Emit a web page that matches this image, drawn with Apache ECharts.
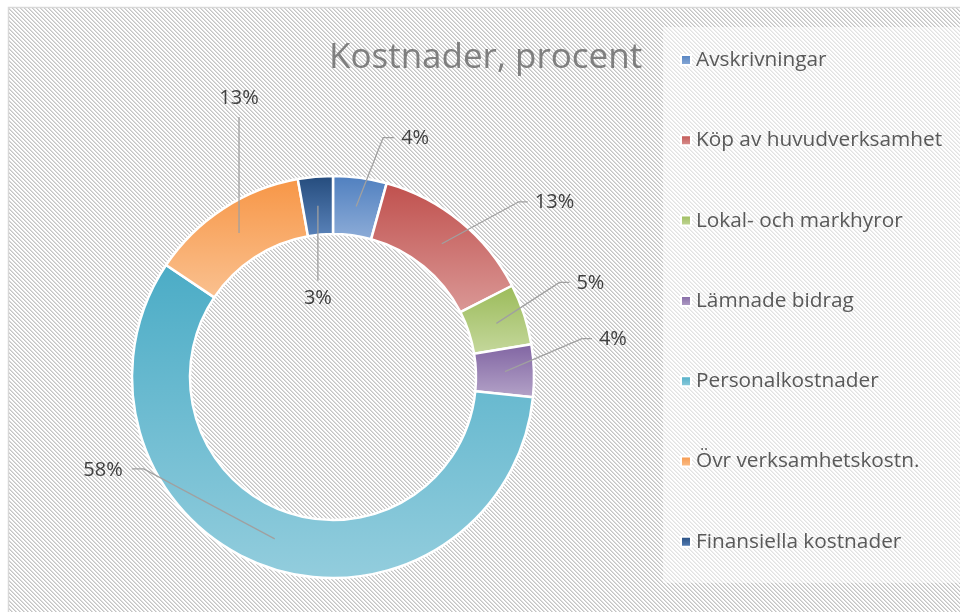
<!DOCTYPE html>
<html>
<head>
<meta charset="utf-8">
<title>Kostnader, procent</title>
<script src="https://cdn.jsdelivr.net/npm/echarts@6/dist/echarts.min.js"></script>
<style>
html, body { margin: 0; padding: 0; background: #fff; }
#main { width: 960px; height: 612px; }
</style>
</head>
<body>
<div id="main"></div>
<script>
// kostnader per kategori (procent)
var categories = ['Avskrivningar', 'Köp av huvudverksamhet', 'Lokal- och markhyror', 'Lämnade bidrag', 'Personalkostnader', 'Övr verksamhetskostn.', 'Finansiella kostnader'];
var values = [4.3, 13.2, 4.9, 4.2, 57.8, 12.8, 2.8];

// färger, topp -> botten i varje segment
var topColors = ['#4f7fbf', '#c0504d', '#9bbb59', '#8064a2', '#4bacc6', '#f79646', '#244b7c'];
var bottomColors = ['#8eadd8', '#da9896', '#c5d89d', '#b4a3c8', '#93cddd', '#fac190', '#5a83ba'];

var CX = 333, CY = 377, R_IN = 143, R_OUT = 201;
var R_MID = (R_IN + R_OUT) / 2;

// etikettlinjer: [dx, dy] från start till knäck, sedan horisontell bit
var leader = [
    [27, -69, 11],
    [77, -42, 9],
    [63, -41, 10],
    [77, -33, 10],
    [-131, -70, -12],
    [0, -116, 0],
    [0, 75, 0]
];

function hatchTile() {
    var c = document.createElement('canvas');
    c.width = 4;
    c.height = 4;
    var ctx = c.getContext('2d');
    ctx.fillStyle = '#ffffff';
    ctx.fillRect(0, 0, 4, 4);
    for (var i = 0; i < 4; i++) {
        ctx.fillStyle = '#c4c4c4';
        ctx.fillRect(i, i, 1, 1);
        ctx.fillStyle = '#dedede';
        ctx.fillRect((i + 1) % 4, i, 1, 1);
    }
    return c;
}

var pieData = categories.map(function (name, i) {
    return {
        name: name,
        value: values[i],
        itemStyle: {
            color: new echarts.graphic.LinearGradient(0, 0, 0, 1, [
                { offset: 0, color: topColors[i] },
                { offset: 1, color: bottomColors[i] }
            ])
        }
    };
});

var labelData = categories.map(function (name, i) {
    return { name: name, value: values[i] };
});

var myChart = echarts.init(document.getElementById('main'));
var option = {
    animation: false,
    graphic: [{
        type: 'rect',
        z: 0,
        silent: true,
        shape: { x: 8.5, y: 7.5, width: 960, height: 620 },
        style: { fill: { image: hatchTile(), repeat: 'repeat' }, stroke: '#d9d9d9', lineWidth: 1.5 }
    }, {
        type: 'rect',
        z: 1,
        silent: true,
        shape: { x: 663, y: 27, width: 300, height: 556 },
        style: { fill: 'rgba(255,255,255,0.5)' }
    }],
    title: {
        text: 'Kostnader, procent',
        left: 329,
        top: 41,
        padding: 0,
        textStyle: {
            fontFamily: 'Open Sans',
            fontSize: 35,
            fontWeight: 'normal',
            color: '#7f7f7f'
        }
    },
    legend: {
        orient: 'vertical',
        left: 680,
        top: 48,
        padding: 0,
        icon: 'rect',
        itemWidth: 10,
        itemHeight: 10,
        itemGap: 56.3,
        selectedMode: false,
        textStyle: {
            fontFamily: 'Open Sans',
            fontSize: 20.8,
            lineHeight: 24,
            color: '#595959'
        },
        data: categories
    },
    series: [{
        // segmenten
        type: 'pie',
        z: 2,
        center: [CX, CY],
        radius: [R_IN, R_OUT],
        startAngle: 90,
        clockwise: true,
        silent: true,
        emphasis: { disabled: true },
        itemStyle: { borderColor: '#ffffff', borderWidth: 2.5 },
        label: { show: false },
        labelLine: { show: false },
        data: pieData
    }, {
        // etiketter och linjer ovanpå segmenten
        type: 'pie',
        z: 5,
        center: [CX, CY],
        radius: [R_IN, R_OUT],
        startAngle: 90,
        clockwise: true,
        silent: true,
        legendHoverLink: false,
        emphasis: { disabled: true },
        itemStyle: { color: 'rgba(0,0,0,0)', borderWidth: 0 },
        label: {
            show: true,
            position: 'outside',
            fontFamily: 'Open Sans',
            fontSize: 20,
            color: '#404040',
            formatter: function (p) {
                return Math.round(p.value) + '%';
            }
        },
        labelLine: {
            show: true,
            showAbove: true,
            lineStyle: { color: '#a0a0a0', width: 1.3 }
        },
        labelLayout: function (p) {
            var L = leader[p.dataIndex];
            var pts = p.labelLinePoints;
            var dx = pts[0][0] - CX, dy = pts[0][1] - CY;
            var len = Math.sqrt(dx * dx + dy * dy);
            var sx = CX + dx / len * R_MID, sy = CY + dy / len * R_MID;
            var ex = sx + L[0], ey = sy + L[1];
            var fx = ex + L[2];
            var res = { labelLinePoints: [[sx, sy], [ex, ey], [fx, ey]], verticalAlign: 'middle' };
            if (L[2] > 0) {
                res.x = fx + 7; res.y = ey + 1; res.align = 'left';
            } else if (L[2] < 0) {
                res.x = fx - 9; res.y = ey + 1; res.align = 'right';
            } else if (L[1] < 0) {
                res.x = ex; res.y = ey - 19; res.align = 'center';
            } else {
                res.x = ex; res.y = ey + 18; res.align = 'center';
            }
            return res;
        },
        data: labelData
    }]
};
option && myChart.setOption(option);
</script>
</body>
</html>
